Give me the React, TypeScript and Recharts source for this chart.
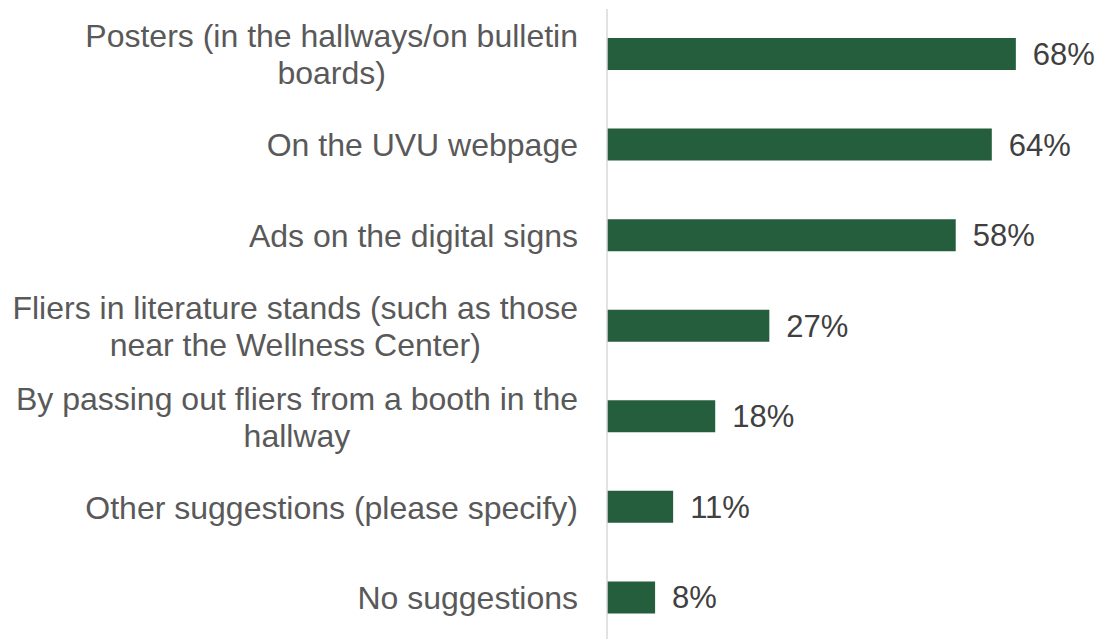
import React from 'react';
import { BarChart, Bar, XAxis, YAxis, LabelList } from 'recharts';

// 类别标签（\n 为换行位置）
const categories = [
  'Posters (in the hallways/on bulletin\nboards)',
  'On the UVU webpage',
  'Ads on the digital signs',
  'Fliers in literature stands (such as those\nnear the Wellness Center)',
  'By passing out fliers from a booth in the\nhallway',
  'Other suggestions (please specify)',
  'No suggestions',
];
const values = [68, 64, 58, 27, 18, 11, 8];

const data = categories.map((name, i) => ({ name, value: values[i] }));

const FONT = '"Liberation Sans", Arial, sans-serif';
const LABEL_SIZE = 32;
const VALUE_SIZE = 31;
const LINE_H = 37;
const LABEL_RIGHT = 578;

let ctx: CanvasRenderingContext2D | null = null;
function textWidth(s: string): number {
  if (!ctx) ctx = document.createElement('canvas').getContext('2d');
  if (!ctx) return s.length * 16;
  ctx.font = `${LABEL_SIZE}px ${FONT}`;
  return ctx.measureText(s).width;
}

/** 多行标签：按最宽一行居中，整体右对齐 */
function CategoryTick(props: any) {
  const { y, payload } = props;
  const lines: string[] = String(payload.value).split('\n');
  const maxW = Math.max(...lines.map(textWidth));
  const cx = LABEL_RIGHT - maxW / 2;
  return (
    <g>
      {lines.map((l, i) => (
        <text
          key={i}
          x={cx}
          y={y + (i - (lines.length - 1) / 2) * LINE_H}
          dy="0.36em"
          textAnchor="middle"
          fill="#595959"
          fontSize={LABEL_SIZE}
          fontFamily={FONT}
        >
          {l}
        </text>
      ))}
    </g>
  );
}

export default function App() {
  return (
    <div style={{ position: 'fixed', left: 0, top: 0, width: 1100, height: 643, background: '#fff' }}>
      <BarChart
        width={1100}
        height={643}
        data={data}
        layout="vertical"
        margin={{ top: 9, right: 12, bottom: 0, left: 0 }}
        barCategoryGap={0}
      >
        <XAxis type="number" domain={[0, 80]} hide />
        <YAxis
          type="category"
          dataKey="name"
          width={607}
          axisLine={{ stroke: '#d9d9d9', strokeWidth: 1.5 }}
          tickLine={false}
          tick={<CategoryTick />}
          interval={0}
        />
        <Bar dataKey="value" fill="#245E3C" barSize={32} isAnimationActive={false}>
          <LabelList
            dataKey="value"
            position="right"
            offset={17}
            formatter={(v: any) => `${v}%`}
            fill="#404040"
            fontSize={VALUE_SIZE}
            fontFamily={FONT}
          />
        </Bar>
      </BarChart>
    </div>
  );
}
